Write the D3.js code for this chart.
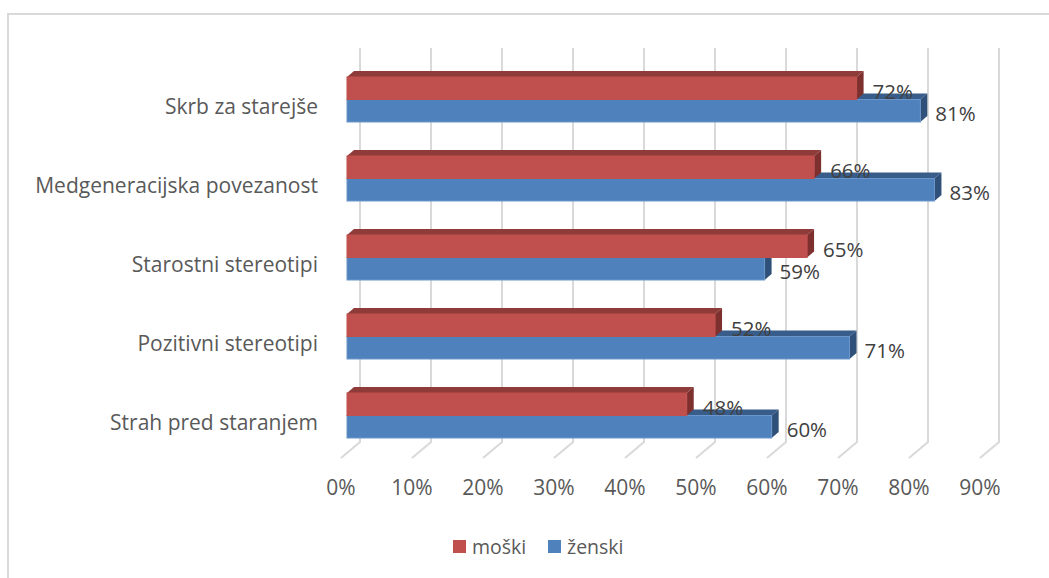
<!DOCTYPE html>
<html>
<head>
<meta charset="utf-8">
<script src="https://cdn.jsdelivr.net/npm/d3@7"></script>
<style>
  body { margin: 0; background: #fff; }
  svg { display: block; }
  text { font-family: "Open Sans", "Liberation Sans", sans-serif; }
</style>
</head>
<body>
<script>
// data ==============================================================
var categories = ["Skrb za starejše", "Medgeneracijska povezanost", "Starostni stereotipi", "Pozitivni stereotipi", "Strah pred staranjem"];
var moski  = [0.72, 0.66, 0.65, 0.52, 0.48];
var zenski = [0.81, 0.83, 0.59, 0.71, 0.60];
var ticks = [0, 0.1, 0.2, 0.3, 0.4, 0.5, 0.6, 0.7, 0.8, 0.9];
var seriesNames = ["moški", "ženski"];
// ==================================================================

var width = 1049, height = 578;
var depth = {dx: 7, dy: -6};      // 3d offset of the bars
var floor = {dx: -19, dy: 16};    // floor diagonal

var svg = d3.select("body").append("svg")
    .attr("width", width)
    .attr("height", height);

// chart border
svg.append("rect")
    .attr("x", 8).attr("y", 14)
    .attr("width", 1100).attr("height", 700)
    .attr("fill", "none")
    .attr("stroke", "#d9d9d9")
    .attr("stroke-width", 2);

// back wall scale (gridlines) and front face scale (bars)
var xGrid = d3.scaleLinear().domain([0, 0.9]).range([360, 999]);
var xBar  = d3.scaleLinear().domain([0, 0.9]).range([347, 984]);

var y = d3.scaleBand()
    .domain(categories)
    .range([60, 455])
    .paddingInner(34 / 79)
    .paddingOuter(17 / 79);

var gridTop = 48, gridBottom = 442;

// gridlines, with the floor diagonal
svg.append("g").selectAll("path")
    .data(ticks)
  .enter().append("path")
    .attr("d", d => {
      var x = xGrid(d);
      return "M" + x + "," + gridTop + "V" + gridBottom +
             "l" + floor.dx + "," + floor.dy;
    })
    .attr("fill", "none")
    .attr("stroke", "#d9d9d9")
    .attr("stroke-width", 2);

// axis labels
var pct = d3.format(".0%");
svg.append("g").selectAll("text")
    .data(ticks)
  .enter().append("text")
    .attr("x", d => xGrid(d) + floor.dx)
    .attr("y", 495)
    .attr("text-anchor", "middle")
    .attr("fill", "#595959")
    .attr("font-size", "21px")
    .text(d => pct(d));

// category labels
svg.append("g").selectAll("text")
    .data(categories)
  .enter().append("text")
    .attr("x", 318)
    .attr("y", d => y(d) + y.bandwidth() / 2 + 14)
    .attr("text-anchor", "end")
    .attr("fill", "#595959")
    .attr("font-size", "21px")
    .text(d => d);

var colors = [
  {front: "#c0504d", top: "#8f3b39", side: "#7d302e", edge: "#c0504d"},
  {front: "#4f81bd", top: "#385d8a", side: "#2f5078", edge: "#6b96cb"}
];

function drawBar(g, x1, y0, h, c) {
  var x0 = xBar(0);
  // top face
  g.append("path")
    .attr("d", "M" + x0 + "," + y0 + "l" + depth.dx + "," + depth.dy +
               "H" + (x1 + depth.dx) + "l" + (-depth.dx) + "," + (-depth.dy) + "Z")
    .attr("fill", c.top);
  // side face
  g.append("path")
    .attr("d", "M" + x1 + "," + y0 + "l" + depth.dx + "," + depth.dy +
               "v" + h + "l" + (-depth.dx) + "," + (-depth.dy) + "Z")
    .attr("fill", c.side);
  // front face
  g.append("rect")
    .attr("x", x0).attr("y", y0)
    .attr("width", x1 - x0).attr("height", h)
    .attr("fill", c.front)
    .attr("stroke", c.edge)
    .attr("stroke-width", 1);
}

var barH = y.bandwidth() / 2;
var bars = svg.append("g");

categories.forEach((cat, i) => {
  var g = bars.append("g");
  // blue first (behind), red on top of it
  drawBar(g, xBar(zenski[i]), y(cat) + barH, barH, colors[1]);
  drawBar(g, xBar(moski[i]), y(cat), barH, colors[0]);
});

// value labels
var labels = svg.append("g");
categories.forEach((cat, i) => {
  labels.append("text")
    .attr("x", xBar(moski[i]) + 16)
    .attr("y", y(cat) + barH - 1)
    .attr("fill", "#404040")
    .attr("font-size", "20.5px")
    .text(pct(moski[i]));
  labels.append("text")
    .attr("x", xBar(zenski[i]) + 15)
    .attr("y", y(cat) + 2 * barH - 1)
    .attr("fill", "#404040")
    .attr("font-size", "20.5px")
    .text(pct(zenski[i]));
});

// legend
var legend = svg.append("g");
var legendX = [453, 548];
seriesNames.forEach((name, i) => {
  legend.append("rect")
    .attr("x", legendX[i]).attr("y", 540)
    .attr("width", 13).attr("height", 13)
    .attr("fill", colors[i].front);
  legend.append("text")
    .attr("x", legendX[i] + 19)
    .attr("y", 554)
    .attr("fill", "#595959")
    .attr("font-size", "19.5px")
    .text(name);
});
</script>
</body>
</html>
